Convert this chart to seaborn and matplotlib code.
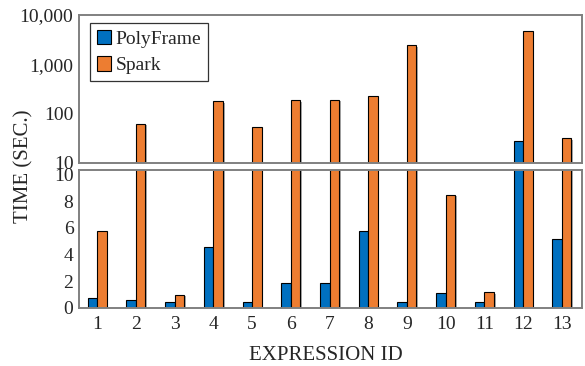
import matplotlib
matplotlib.use("Agg")
import matplotlib.pyplot as plt
import matplotlib.patheffects as pe
from matplotlib.patches import Patch
from matplotlib.ticker import FixedLocator, FuncFormatter, LogLocator, NullFormatter
import seaborn as sns
import pandas as pd

# ===================== 数据 =====================
expr_ids = ["1", "2", "3", "4", "5", "6", "7", "8", "9", "10", "11", "12", "13"]
polyframe = [0.75, 0.63, 0.43, 4.59, 0.43, 1.88, 1.88, 5.75, 0.48, 1.13, 0.48, 28.5, 5.17]
spark = [5.75, 62.5, 1.0, 181, 54, 186, 193, 229, 2440, 8.5, 1.18, 4790, 32]
series = ["PolyFrame", "Spark"]
colors = ["#0070C0", "#ED7D31"]

df = pd.DataFrame({
    "expr": expr_ids * 2,
    "time": polyframe + spark,
    "system": [series[0]] * len(expr_ids) + [series[1]] * len(expr_ids),
})

sns.set_style("white")
plt.rcParams["font.family"] = ["Liberation Serif", "DejaVu Serif"]
frame_col = "#808080"

fig = plt.figure(figsize=(5.85, 3.66), dpi=100)
ax_top = fig.add_axes([79 / 585, 1 - 163 / 366, 503 / 585, 148 / 366])
ax_bot = fig.add_axes([79 / 585, 1 - 308 / 366, 503 / 585, 138 / 366])

for ax in (ax_top, ax_bot):
    sns.barplot(data=df, x="expr", y="time", hue="system", order=expr_ids,
                hue_order=series, palette=colors, width=0.49, gap=0,
                edgecolor="black", linewidth=0.8, saturation=1,
                legend=False, ax=ax)
    for bar in ax.patches:
        bar.set_path_effects([pe.SimplePatchShadow(offset=(1.2, -1.2), shadow_rgbFace="#555555", alpha=0.5),
                              pe.Normal()])
    for s in ax.spines.values():
        s.set_color(frame_col)
        s.set_linewidth(1.4)
    ax.set_xlim(-0.47, 12.52)
    ax.set_xlabel("")
    ax.set_ylabel("")
    ax.tick_params(axis="y", direction="in", length=4, width=0.8, color="#444444",
                   labelsize=14, pad=4)
    ax.tick_params(axis="x", length=0)

# 上半部分：对数坐标
ax_top.set_yscale("log")
ax_top.set_ylim(10, 10000)
ax_top.yaxis.set_major_locator(FixedLocator([10, 100, 1000, 10000]))
ax_top.yaxis.set_major_formatter(FuncFormatter(lambda v, p: f"{int(round(v)):,}"))
ax_top.yaxis.set_minor_locator(LogLocator(base=10, subs=range(2, 10)))
ax_top.yaxis.set_minor_formatter(NullFormatter())
ax_top.tick_params(axis="y", which="minor", direction="in", length=2.5, width=0.6, color="#444444")
ax_top.set_xticklabels([])

# 下半部分：线性坐标
ax_bot.set_ylim(0, 10.35)
ax_bot.set_yticks([0, 2, 4, 6, 8, 10])
ax_bot.tick_params(axis="x", labelsize=14, pad=6)

handles = [Patch(facecolor=c, edgecolor="black", linewidth=0.8) for c in colors]
leg = ax_top.legend(handles, series, loc="upper left", fontsize=14, frameon=True,
                    fancybox=False, edgecolor="black", handlelength=0.75, handleheight=0.75,
                    handletextpad=0.2, borderpad=0.35, labelspacing=0.45, borderaxespad=0,
                    bbox_to_anchor=(0.022, 0.946))
leg.get_frame().set_linewidth(0.9)

fig.text(24 / 585, 1 - 166 / 366, "TIME (SEC.)", rotation=90, ha="center", va="center", fontsize=15)
fig.text(326 / 585, 1 - 356 / 366, "EXPRESSION ID", ha="center", va="center", fontsize=15)

fig.savefig("out.png", dpi=100)
